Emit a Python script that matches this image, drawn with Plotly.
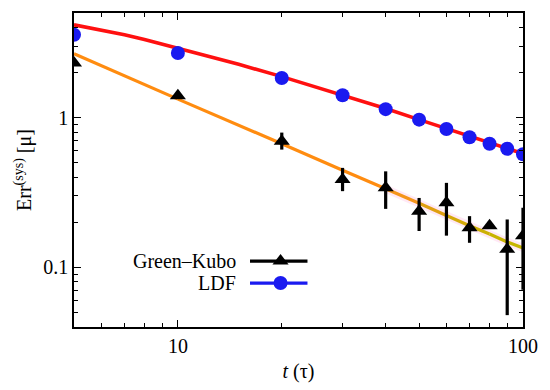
import plotly.graph_objects as go

# ---- data ----
t_ldf = [5, 10, 20, 30, 40, 50, 60, 70, 80, 90, 100]
err_ldf = [3.58, 2.70, 1.84, 1.41, 1.14, 0.97, 0.84, 0.74, 0.67, 0.62, 0.57]

t_gk = [5, 10, 20, 30, 40, 50, 60, 70, 80, 90, 100]
err_gk = [2.32, 1.40, 0.695, 0.386, 0.340, 0.237, 0.270, 0.184, 0.190, 0.132, 0.163]
gk_plus = [0.04, 0.05, 0.10, 0.076, 0.098, 0.054, 0.097, 0.036, 0.006, 0.077, 0.087]
gk_minus = [0.04, 0.05, 0.083, 0.063, 0.094, 0.062, 0.107, 0.038, 0.006, 0.084, 0.092]

t_fit_ldf = [5, 6, 7, 8, 10, 12, 15, 20, 25, 30, 40, 50, 60, 70, 80, 90, 100]
fit_ldf = [4.17, 3.86, 3.58, 3.33, 2.92, 2.62, 2.27, 1.88, 1.61, 1.42, 1.15, 0.97, 0.845, 0.75, 0.675, 0.62, 0.575]

t_fit_gk = [5, 10, 20, 30, 40, 50, 60, 70, 80, 90, 100]
fit_gk = [2.67, 1.33, 0.67, 0.445, 0.335, 0.268, 0.222, 0.19, 0.167, 0.148, 0.135]
fit_gk_colors = ["#ff8c10", "#ff8c10", "#ff8c10", "#ff8c10", "#f4951a",
                 "#e0a010", "#d4aa08", "#ccb004", "#c8b400", "#c6b600"]

x_ticks = [10, 100]
x_minor = [6, 7, 8, 9, 20, 30, 40, 50, 60, 70, 80, 90]
y_ticks = [0.1, 1]
y_minor = [0.05, 0.06, 0.07, 0.08, 0.09, 0.2, 0.3, 0.4, 0.5, 0.6, 0.7, 0.8, 0.9, 2, 3, 4]

FONT = "Liberation Serif, Times New Roman, serif"

fig = go.Figure()

# pink band around the extrapolated part of the GK fit
band_t = t_fit_gk[4:]
band_y = fit_gk[4:]
fig.add_trace(go.Scatter(x=band_t + band_t[::-1],
                         y=[v * 1.07 for v in band_y] + [v / 1.07 for v in band_y[::-1]],
                         fill="toself", fillcolor="rgba(255,190,225,0.35)",
                         line=dict(width=0), mode="lines", hoverinfo="skip", showlegend=False))

# GK fit line, segment-coloured
for i in range(len(t_fit_gk) - 1):
    fig.add_trace(go.Scatter(x=t_fit_gk[i:i + 2], y=fit_gk[i:i + 2], mode="lines",
                             line=dict(color=fit_gk_colors[i], width=3.2),
                             showlegend=False, hoverinfo="skip"))

# LDF fit line
fig.add_trace(go.Scatter(x=t_fit_ldf, y=fit_ldf, mode="lines",
                         line=dict(color="#ff1010", width=3.6),
                         showlegend=False))

# Green-Kubo data
fig.add_trace(go.Scatter(x=t_gk, y=err_gk, mode="markers",
                         marker=dict(symbol="triangle-up", size=14, color="black"),
                         error_y=dict(type="data", symmetric=False, array=gk_plus,
                                      arrayminus=gk_minus, color="black", thickness=3.2, width=0),
                         showlegend=False))

# LDF data
fig.add_trace(go.Scatter(x=t_ldf, y=err_ldf, mode="markers",
                         marker=dict(symbol="circle", size=14, color="#1a1af0"),
                         showlegend=False))

# manual legend (symbol to the right of text) on a hidden paper-like axis
leg_labels = ["Green\u2013Kubo", "LDF"]
leg_colors = ["black", "#1a1af0"]
leg_symbols = ["triangle-up", "circle"]
leg_y = [0.21, 0.14]
for lab, col, sym, ly in zip(leg_labels, leg_colors, leg_symbols, leg_y):
    fig.add_trace(go.Scatter(x=[0.392, 0.52], y=[ly, ly], mode="lines",
                             line=dict(color=col, width=3.2), xaxis="x2", yaxis="y2",
                             showlegend=False, hoverinfo="skip"))
    fig.add_trace(go.Scatter(x=[0.46], y=[ly], mode="markers",
                             marker=dict(symbol=sym, size=14, color=col), xaxis="x2", yaxis="y2",
                             showlegend=False, hoverinfo="skip"))
    fig.add_annotation(x=0.365, y=ly, xref="x2", yref="y2", text=lab, showarrow=False,
                       xanchor="right", yanchor="middle", font=dict(family=FONT, size=20, color="black"))

axis_common = dict(type="log", showgrid=False, zeroline=False, showline=True, linecolor="black",
                   linewidth=1.5, mirror="ticks", ticks="inside", ticklen=7, tickwidth=1.2,
                   tickcolor="black", automargin=False,
                   tickfont=dict(family=FONT, size=20, color="black"))
minor_common = dict(ticks="inside", ticklen=4, tickwidth=1.2, tickcolor="black", showgrid=False, tickmode="array")

fig.update_layout(
    width=550, height=390,
    margin=dict(l=74, r=27, t=13, b=63, autoexpand=False),
    paper_bgcolor="white", plot_bgcolor="white",
    showlegend=False,
    xaxis=dict(axis_common, range=[0.69897, 2], tickvals=x_ticks, ticktext=["10", "100"],
               minor=dict(minor_common, tickvals=x_minor),
               title=dict(text="<i>t</i> (\u03c4)", font=dict(family=FONT, size=20, color="black"), standoff=8)),
    yaxis=dict(axis_common, range=[-1.39794, 0.69897], tickvals=y_ticks, ticktext=["0.1", "1"],
               minor=dict(minor_common, tickvals=y_minor),
               title=dict(text="Err<sup>(sys)</sup> [\u03bc]", font=dict(family=FONT, size=20, color="black"), standoff=6)),
    xaxis2=dict(range=[0, 1], overlaying="x", visible=False, fixedrange=True, automargin=False),
    yaxis2=dict(range=[0, 1], overlaying="y", visible=False, fixedrange=True, automargin=False),
)

fig.write_html("out.html", config={"displayModeBar": False},
               post_script="document.body.style.margin='0';document.body.style.overflow='hidden';")
